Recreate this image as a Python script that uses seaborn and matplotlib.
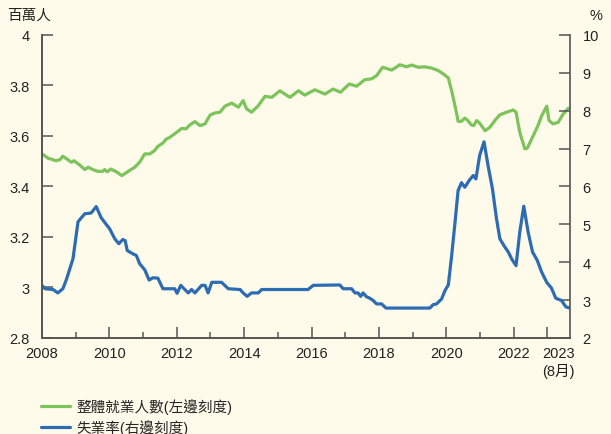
import matplotlib
matplotlib.use("Agg")
import matplotlib.pyplot as plt
from matplotlib.lines import Line2D
from matplotlib.transforms import ScaledTranslation
import pandas as pd
import seaborn as sns

# employment (millions, left axis)
emp_year = [
    2008.00, 2008.18, 2008.42, 2008.53, 2008.62, 2008.77, 2008.87, 2008.95,
    2009.12, 2009.27, 2009.37, 2009.51, 2009.66, 2009.81, 2009.86, 2009.94,
    2010.04, 2010.20, 2010.37, 2010.55, 2010.75, 2010.90, 2011.05, 2011.20,
    2011.34, 2011.44, 2011.59, 2011.69, 2011.80, 2012.00, 2012.15, 2012.27,
    2012.39, 2012.54, 2012.69, 2012.84, 2012.99, 2013.13, 2013.28, 2013.43,
    2013.63, 2013.83, 2013.97, 2014.07, 2014.22, 2014.42, 2014.62, 2014.82,
    2015.06, 2015.36, 2015.61, 2015.80, 2016.10, 2016.40, 2016.64, 2016.86,
    2017.12, 2017.34, 2017.58, 2017.78, 2017.93, 2018.11, 2018.38, 2018.62,
    2018.82, 2018.97, 2019.17, 2019.36, 2019.56, 2019.76, 2019.91, 2020.06,
    2020.16, 2020.31, 2020.35, 2020.45, 2020.55, 2020.64, 2020.74, 2020.81,
    2020.90, 2020.99, 2021.15, 2021.29, 2021.44, 2021.59, 2021.79, 2021.99,
    2022.07, 2022.18, 2022.33, 2022.40, 2022.58, 2022.73, 2022.83, 2022.98,
    2023.05, 2023.17, 2023.32, 2023.47, 2023.62,
]
emp_value = [
    3.529, 3.512, 3.502, 3.506, 3.520, 3.506, 3.496, 3.502,
    3.485, 3.467, 3.476, 3.467, 3.460, 3.460, 3.467, 3.458,
    3.469, 3.459, 3.443, 3.459, 3.476, 3.496, 3.529, 3.529,
    3.542, 3.559, 3.572, 3.588, 3.595, 3.615, 3.630, 3.628,
    3.644, 3.657, 3.641, 3.648, 3.683, 3.691, 3.694, 3.718,
    3.730, 3.714, 3.740, 3.708, 3.694, 3.720, 3.757, 3.753,
    3.779, 3.753, 3.779, 3.762, 3.783, 3.766, 3.786, 3.773,
    3.806, 3.797, 3.823, 3.826, 3.839, 3.872, 3.861, 3.882,
    3.874, 3.881, 3.872, 3.874, 3.869, 3.859, 3.846, 3.830,
    3.779, 3.687, 3.658, 3.658, 3.671, 3.661, 3.644, 3.641,
    3.661, 3.651, 3.621, 3.634, 3.661, 3.684, 3.694, 3.703,
    3.694, 3.615, 3.549, 3.551, 3.601, 3.644, 3.680, 3.718,
    3.661, 3.648, 3.654, 3.687, 3.710,
]

# unemployment rate (%, right axis)
unemp_year = [
    2008.00, 2008.09, 2008.33, 2008.47, 2008.62, 2008.72, 2008.92, 2009.07,
    2009.27, 2009.46, 2009.61, 2009.76, 2010.01, 2010.16, 2010.28, 2010.40,
    2010.47, 2010.53, 2010.70, 2010.80, 2010.90, 2011.05, 2011.18, 2011.29,
    2011.44, 2011.59, 2011.94, 2012.01, 2012.12, 2012.24, 2012.34, 2012.44,
    2012.54, 2012.74, 2012.84, 2012.93, 2013.04, 2013.33, 2013.53, 2013.88,
    2013.97, 2014.09, 2014.22, 2014.42, 2014.52, 2015.90, 2016.05, 2016.84,
    2016.94, 2017.19, 2017.29, 2017.38, 2017.46, 2017.53, 2017.63, 2017.73,
    2017.83, 2017.93, 2018.08, 2018.21, 2019.51, 2019.61, 2019.71, 2019.86,
    2019.96, 2020.06, 2020.16, 2020.25, 2020.35, 2020.45, 2020.55, 2020.68,
    2020.80, 2020.88, 2020.99, 2021.12, 2021.24, 2021.37, 2021.49, 2021.59,
    2021.71, 2021.84, 2021.94, 2022.07, 2022.18, 2022.30, 2022.43, 2022.56,
    2022.70, 2022.83, 2022.98, 2023.12, 2023.25, 2023.42, 2023.55, 2023.67,
]
unemp_value = [
    3.39, 3.30, 3.28, 3.19, 3.30, 3.53, 4.09, 5.07,
    5.28, 5.30, 5.47, 5.17, 4.88, 4.62, 4.49, 4.60,
    4.57, 4.31, 4.22, 4.18, 3.96, 3.80, 3.53, 3.59,
    3.58, 3.30, 3.30, 3.18, 3.39, 3.28, 3.19, 3.28,
    3.19, 3.39, 3.39, 3.19, 3.47, 3.47, 3.30, 3.28,
    3.19, 3.10, 3.19, 3.19, 3.28, 3.28, 3.39, 3.40,
    3.30, 3.30, 3.19, 3.19, 3.10, 3.19, 3.09, 3.05,
    2.99, 2.90, 2.90, 2.79, 2.79, 2.88, 2.90, 3.03,
    3.25, 3.40, 4.18, 4.97, 5.89, 6.10, 5.98, 6.16,
    6.29, 6.20, 6.82, 7.18, 6.55, 5.94, 5.15, 4.62,
    4.44, 4.27, 4.09, 3.91, 4.79, 5.48, 4.79, 4.27,
    4.05, 3.74, 3.47, 3.32, 3.05, 2.99, 2.82, 2.79,
]

x_ticks = [2008, 2010, 2012, 2014, 2016, 2018, 2020, 2022, 2023]
x_tick_labels = ["2008", "2010", "2012", "2014", "2016", "2018", "2020", "2022", "2023\n(8月)"]
left_ticks = [2.8, 3.0, 3.2, 3.4, 3.6, 3.8, 4.0]
left_tick_labels = ["2.8", "3", "3.2", "3.4", "3.6", "3.8", "4"]
right_ticks = [2, 3, 4, 5, 6, 7, 8, 9, 10]

GREEN = "#7cc35b"
BLUE = "#2d6bb3"
BG = "#fefbea"
AXIS = "#555555"

sns.set_theme(style="ticks")
plt.rcParams["font.family"] = ["Liberation Sans", "Noto Sans CJK TC", "DejaVu Sans"]
plt.rcParams["font.size"] = 10.5

emp_df = pd.DataFrame({"year": emp_year, "value": emp_value})
unemp_df = pd.DataFrame({"year": unemp_year, "value": unemp_value})

fig = plt.figure(figsize=(6.11, 4.35), dpi=100, facecolor=BG)
ax = fig.add_axes([0.0687, 0.2207, 0.8641, 0.6966])
ax.set_facecolor(BG)
ax2 = ax.twinx()

sns.lineplot(data=emp_df, x="year", y="value", ax=ax, color=GREEN, linewidth=2.3)
sns.lineplot(data=unemp_df, x="year", y="value", ax=ax2, color=BLUE, linewidth=2.3)

ax.set_xlim(2008, 2023.67)
ax.set_ylim(2.8, 4.0)
ax2.set_ylim(2, 10)

ax.set_xticks(x_ticks)
ax.set_xticklabels(x_tick_labels)
ax.set_xticks([2009, 2011, 2013, 2015, 2017, 2019, 2021], minor=True)
ax.set_yticks(left_ticks)
ax.set_yticklabels(left_tick_labels)
ax2.set_yticks(right_ticks)

for a in (ax, ax2):
    a.set_xlabel("")
    a.set_ylabel("")
    a.spines["top"].set_visible(False)
    for side in ("left", "right", "bottom"):
        a.spines[side].set_color(AXIS)
        a.spines[side].set_linewidth(1.2)
ax.spines["right"].set_visible(False)

ax.tick_params(axis="x", which="major", direction="in", length=8, width=1.1,
               color=AXIS, labelsize=10.5, labelcolor="#222222", pad=6)
ax.tick_params(axis="x", which="minor", direction="in", length=4, width=1.1, color=AXIS)
ax.tick_params(axis="y", direction="in", length=8, width=1.1, color=AXIS,
               labelsize=10.5, labelcolor="#222222", pad=9)
ax2.tick_params(axis="y", direction="in", length=8, width=1.1, color=AXIS,
                labelsize=10.5, labelcolor="#222222", pad=9)

# the last label sits a little right of its tick
last = ax.get_xticklabels()[-1]
last.set_transform(last.get_transform() + ScaledTranslation(8 / 72, 0, fig.dpi_scale_trans))

fig.text(0.012, 0.963, "百萬人", fontsize=10.5, color="#222222", ha="left", va="center")
fig.text(0.965, 0.963, "%", fontsize=10.5, color="#222222", ha="left", va="center")

handles = [
    Line2D([], [], color=GREEN, linewidth=2.3),
    Line2D([], [], color=BLUE, linewidth=2.3),
]
fig.legend(handles, ["整體就業人數(左邊刻度)", "失業率(右邊刻度)"],
           loc="upper left", bbox_to_anchor=(0.045, 0.113), frameon=False,
           fontsize=10.5, handlelength=2.0, labelspacing=0.35, handletextpad=0.45)

fig.savefig("out.png", dpi=100, facecolor=BG)
